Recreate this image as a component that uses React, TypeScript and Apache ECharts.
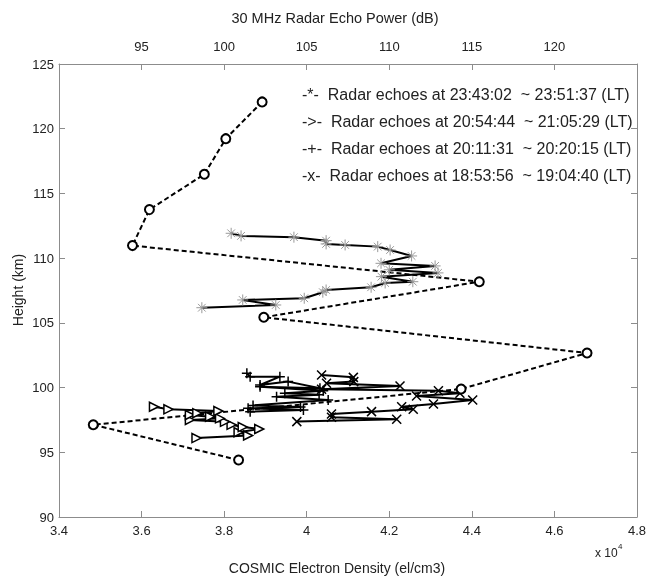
import React, { useEffect, useRef } from "react";
import * as echarts from "echarts";

// COSMIC electron density profile (x: el/cm3 / 1e4, y: height km)
const cosmicProfile: [number, number][] = [
  [3.835, 94.4], [3.483, 97.13], [4.374, 99.89], [4.679, 102.67], [3.896, 105.43],
  [4.418, 108.18], [3.578, 110.97], [3.619, 113.75], [3.752, 116.48], [3.804, 119.23], [3.892, 122.07],
];

// Radar echoes 23:43:02 ~ 23:51:37 (asterisks)
const echoesStar: [number, number][] = [
  [3.746, 106.17], [3.925, 106.38], [3.845, 106.77], [3.994, 106.9], [4.039, 107.37],
  [4.047, 107.54], [4.156, 107.75], [4.19, 108.08], [4.257, 108.18], [4.181, 108.57],
  [4.318, 108.86], [4.2, 109.1], [4.311, 109.4], [4.18, 109.6], [4.254, 110.17],
  [4.202, 110.63], [4.172, 110.89], [4.093, 111.02], [4.047, 111.1], [4.047, 111.35],
  [3.969, 111.62], [3.841, 111.72], [3.817, 111.92],
];

// Radar echoes 20:54:44 ~ 21:05:29 (triangles)
const echoesTriangle: [number, number][] = [
  [3.733, 96.1], [3.858, 96.3], [3.835, 96.55], [3.885, 96.8], [3.845, 96.95],
  [3.818, 97.12], [3.802, 97.35], [3.717, 97.5], [3.79, 97.62], [3.766, 97.75],
  [3.717, 97.88], [3.735, 98.02], [3.786, 98.19], [3.665, 98.32], [3.63, 98.52],
];

// Radar echoes 20:11:31 ~ 20:20:15 (plus)
const echoesPlus: [number, number][] = [
  [3.863, 98.14], [3.992, 98.27], [3.858, 98.4], [3.985, 98.5], [3.87, 98.62],
  [4.052, 99.04], [3.927, 99.3], [4.03, 99.45], [3.947, 99.56], [4.04, 99.75],
  [3.887, 100.07], [4.032, 99.95], [3.955, 100.46], [3.887, 100.2], [3.935, 100.84],
  [3.863, 100.84], [3.855, 101.1],
];

// Radar echoes 18:53:56 ~ 19:04:40 (x)
const echoesX: [number, number][] = [
  [3.976, 97.37], [4.218, 97.55], [4.06, 97.7], [4.06, 97.96], [4.157, 98.14],
  [4.258, 98.32], [4.23, 98.52], [4.307, 98.73], [4.402, 99.04], [4.266, 99.35],
  [4.371, 99.56], [4.319, 99.76], [4.036, 99.87], [4.226, 100.12], [4.048, 100.33],
  [4.114, 100.46], [4.113, 100.79], [4.036, 100.97],
];

const legendLabels = [
  "-*-  Radar echoes at 23:43:02  ~ 23:51:37 (LT)",
  "->-  Radar echoes at 20:54:44  ~ 21:05:29 (LT)",
  "-+-  Radar echoes at 20:11:31  ~ 20:20:15 (LT)",
  "-x-  Radar echoes at 18:53:56  ~ 19:04:40 (LT)",
];

const FONT = "'Liberation Sans', Arial, Helvetica, sans-serif";
const AXIS_GRAY = "#8c8c8c";
const TEXT = "#222";

export default function App() {
  const ref = useRef<HTMLDivElement>(null);
  useEffect(() => {
    if (!ref.current) return;
    const chart = echarts.init(ref.current, undefined, { renderer: "svg" });
    const axisCommon = {
      axisLine: { show: true, lineStyle: { color: AXIS_GRAY, width: 1 } },
      axisTick: { show: true, inside: true, length: 6, lineStyle: { color: AXIS_GRAY } },
      splitLine: { show: false },
      axisLabel: { color: TEXT, fontFamily: FONT, fontSize: 13 },
    };
    const lineSeries = (name: string, data: [number, number][], extra: any) => ({
      name,
      type: "line",
      data,
      silent: true,
      xAxisIndex: 0,
      yAxisIndex: 0,
      ...extra,
    });
    chart.setOption({
      animation: false,
      textStyle: { fontFamily: FONT },
      grid: { left: 59, right: 18, top: 64, bottom: 63, containLabel: false },
      xAxis: [
        {
          type: "value", position: "bottom", min: 3.4, max: 4.8, interval: 0.2,
          ...axisCommon,
          axisLabel: { ...axisCommon.axisLabel, margin: 7 },
        },
        {
          type: "value", position: "top", min: 90, max: 125, interval: 5,
          ...axisCommon,
          axisLabel: { ...axisCommon.axisLabel, margin: 11, showMinLabel: false, showMaxLabel: false },
        },
      ],
      yAxis: [
        {
          type: "value", position: "left", min: 90, max: 125, interval: 5,
          ...axisCommon,
          axisLabel: { ...axisCommon.axisLabel, margin: 5 },
        },
        {
          type: "value", position: "right", min: 90, max: 125, interval: 5,
          ...axisCommon,
          axisLabel: { show: false },
        },
      ],
      series: [
        lineSeries("star", echoesStar, {
          symbol: "path://M0,-5L0,5M-5,0L5,0M-3.5,-3.5L3.5,3.5M-3.5,3.5L3.5,-3.5",
          symbolSize: 11,
          lineStyle: { color: "#000", width: 2 },
          itemStyle: { color: "transparent", borderColor: "#999", borderWidth: 1 },
        }),
        lineSeries("triangle", echoesTriangle, {
          symbol: "triangle",
          symbolRotate: -90,
          symbolSize: 9,
          lineStyle: { color: "#000", width: 2 },
          itemStyle: { color: "#fff", borderColor: "#000", borderWidth: 1.5 },
        }),
        lineSeries("plus", echoesPlus, {
          symbol: "path://M0,-5L0,5M-5,0L5,0",
          symbolSize: 10,
          lineStyle: { color: "#000", width: 2 },
          itemStyle: { color: "transparent", borderColor: "#000", borderWidth: 1.5 },
        }),
        lineSeries("x", echoesX, {
          symbol: "path://M-4,-4L4,4M-4,4L4,-4",
          symbolSize: 9,
          lineStyle: { color: "#000", width: 2 },
          itemStyle: { color: "transparent", borderColor: "#000", borderWidth: 1.5 },
        }),
        lineSeries("cosmic", cosmicProfile, {
          symbol: "circle",
          symbolSize: 9,
          lineStyle: { color: "#000", width: 2, type: [5, 3] },
          itemStyle: { color: "#fff", borderColor: "#000", borderWidth: 2 },
        }),
      ],
      graphic: [
        {
          type: "text", x: 335, y: 18,
          style: { text: "30 MHz Radar Echo Power (dB)", font: `14.5px ${FONT}`, fill: TEXT, align: "center", verticalAlign: "middle" },
        },
        {
          type: "text", x: 337, y: 568,
          style: { text: "COSMIC Electron Density (el/cm3)", font: `14px ${FONT}`, fill: TEXT, align: "center", verticalAlign: "middle" },
        },
        {
          type: "text", x: 18, y: 290, rotation: Math.PI / 2,
          style: { text: "Height (km)", font: `14px ${FONT}`, fill: TEXT, align: "center", verticalAlign: "middle" },
        },
        {
          type: "text", x: 595, y: 553,
          style: { text: "x 10", font: `12px ${FONT}`, fill: TEXT, verticalAlign: "middle" },
        },
        {
          type: "text", x: 618, y: 546,
          style: { text: "4", font: `8px ${FONT}`, fill: TEXT, verticalAlign: "middle" },
        },
        ...legendLabels.map((t, i) => ({
          type: "text", x: 302, y: 94 + i * 27,
          style: { text: t, font: `16px ${FONT}`, fill: TEXT, verticalAlign: "middle" },
        })),
      ],
    });
    return () => chart.dispose();
  }, []);
  return <div ref={ref} style={{ position: "fixed", left: 0, top: 0, width: 655, height: 580 }} />;
}
